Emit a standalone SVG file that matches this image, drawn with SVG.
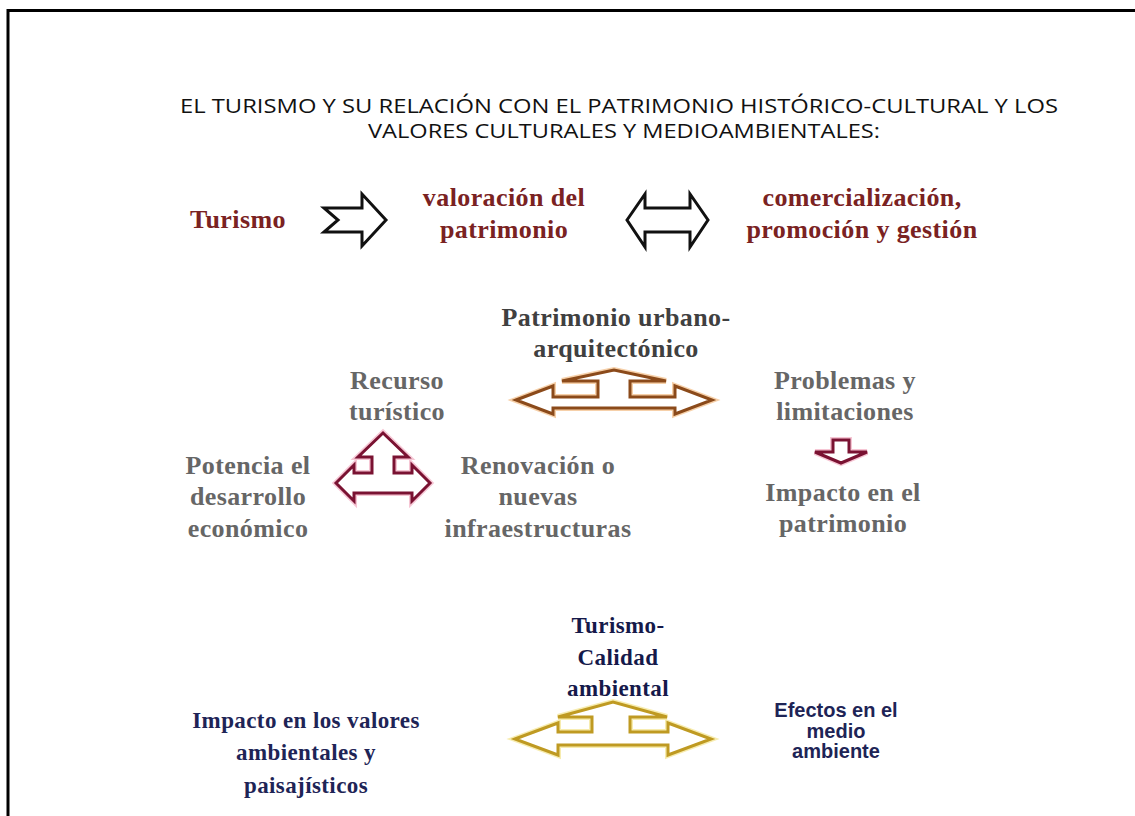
<svg xmlns="http://www.w3.org/2000/svg" width="1135" height="816" viewBox="0 0 1135 816">
<defs>
<style>
.title{font-family:"Open Sans","Liberation Sans",sans-serif;font-size:20px;fill:#111111;text-anchor:middle}
.s{font-family:"Liberation Serif","Times New Roman",serif;font-weight:bold;text-anchor:middle;letter-spacing:0.4px}
.r1{font-size:26px;fill:#7a2222}
.g{font-size:26px;fill:#666666}
.gd{font-size:26px;fill:#404040}
.nv{font-size:23px;fill:#15194a}
.nv2{font-size:23px;fill:#1e2456}
.sans{font-family:"Liberation Sans",Arial,sans-serif;font-weight:bold;font-size:20px;fill:#1e2456;text-anchor:middle}
.blk{fill:#ffffff;stroke:#111111;stroke-width:3;stroke-linejoin:miter}
.brn{fill:#ffffff;stroke:#8b4a1a;stroke-width:3;stroke-linejoin:miter}
.crm{fill:#ffffff;stroke:#7a1232;stroke-width:3;stroke-linejoin:miter}
.gld{fill:#ffffff;stroke:#bf9a22;stroke-width:3;stroke-linejoin:miter}
.glowb{fill:none;stroke:#f0b070;stroke-width:6;opacity:0.6}
.glowc{fill:none;stroke:#f0a0b8;stroke-width:6;opacity:0.6}
.glowg{fill:none;stroke:#f2e07a;stroke-width:6;opacity:0.6}
</style>
</defs>
<rect width="1135" height="816" fill="#ffffff"/>
<g id="frame" fill="none" stroke="#000" stroke-width="3">
<path d="M8 816 V10.5 H1135"/>
</g>
<g id="title">
<text class="title" x="619" y="113" textLength="878" lengthAdjust="spacingAndGlyphs">EL TURISMO Y SU RELACIÓN CON EL PATRIMONIO HISTÓRICO-CULTURAL Y LOS</text>
<text class="title" x="624" y="138" textLength="512" lengthAdjust="spacingAndGlyphs">VALORES CULTURALES Y MEDIOAMBIENTALES:</text>
</g>
<g id="connectors">
<path id="arrow-right" class="blk" d="M324 208 H362 V194 L386 220 L362 246 V232 H324 L338 220 Z"/>
<path id="arrow-double" class="blk" d="M627 220 L645 194 V208 H690 V194 L708 220 L690 247 V232 H645 V247 Z"/>
<path class="glowb" d="M516 400 L553 386 V397 H598 V381 H562 L614 370 L666 381 H630 V397 H675 V386 L712 400 L675 414 V408 H553 V414 Z"/>
<path id="arrow-brown" class="brn" d="M516 400 L553 386 V397 H598 V381 H562 L614 370 L666 381 H630 V397 H675 V386 L712 400 L675 414 V408 H553 V414 Z"/>
<path class="glowc" d="M336 483 L354 465 V473 H372 V457 H358 L383 433 L408 457 H394 V473 H412 V465 L430 483 L412 501 V493 H354 V501 Z"/>
<path id="arrow-crimson" class="crm" d="M336 483 L354 465 V473 H372 V457 H358 L383 433 L408 457 H394 V473 H412 V465 L430 483 L412 501 V493 H354 V501 Z"/>
<path class="glowc" d="M833 440 H849 V452 H867 L841 463 L815 452 H833 Z"/>
<path id="arrow-down" class="crm" d="M833 440 H849 V452 H867 L841 463 L815 452 H833 Z"/>
<path class="glowg" d="M515 739 L558 723 V732 H592 V717 H558 L613 702 L667 717 H630 V732 H668 V723 L711 739 L668 755 V745 H558 V755 Z"/>
<path id="arrow-gold" class="gld" d="M515 739 L558 723 V732 H592 V717 H558 L613 702 L667 717 H630 V732 H668 V723 L711 739 L668 755 V745 H558 V755 Z"/>
</g>
<g id="n-turismo"><text class="s r1" x="238" y="228">Turismo</text></g>
<g id="n-valoracion"><text class="s r1" x="504" y="206">valoración del</text><text class="s r1" x="504" y="238">patrimonio</text></g>
<g id="n-comercializacion"><text class="s r1" x="862" y="206">comercialización,</text><text class="s r1" x="862" y="238">promoción y gestión</text></g>
<g id="n-patrimonio-urbano"><text class="s gd" x="616" y="326">Patrimonio urbano-</text><text class="s gd" x="616" y="357">arquitectónico</text></g>
<g id="n-recurso"><text class="s g" x="397" y="389">Recurso</text><text class="s g" x="397" y="420">turístico</text></g>
<g id="n-problemas"><text class="s g" x="845" y="389">Problemas y</text><text class="s g" x="845" y="420">limitaciones</text></g>
<g id="n-potencia"><text class="s g" x="248" y="474">Potencia el</text><text class="s g" x="248" y="505">desarrollo</text><text class="s g" x="248" y="537">económico</text></g>
<g id="n-renovacion"><text class="s g" x="538" y="474">Renovación o</text><text class="s g" x="538" y="505">nuevas</text><text class="s g" x="538" y="537">infraestructuras</text></g>
<g id="n-impacto-patrimonio"><text class="s g" x="843" y="501">Impacto en el</text><text class="s g" x="843" y="532">patrimonio</text></g>
<g id="n-turismo-calidad"><text class="s nv" x="618" y="633">Turismo-</text><text class="s nv" x="618" y="665">Calidad</text><text class="s nv" x="618" y="696">ambiental</text></g>
<g id="n-impacto-valores"><text class="s nv2" x="306" y="728">Impacto en los valores</text><text class="s nv2" x="306" y="760">ambientales y</text><text class="s nv2" x="306" y="793">paisajísticos</text></g>
<g id="n-efectos"><text class="sans" x="836" y="717">Efectos en el</text><text class="sans" x="836" y="738">medio</text><text class="sans" x="836" y="758">ambiente</text></g>
</svg>
